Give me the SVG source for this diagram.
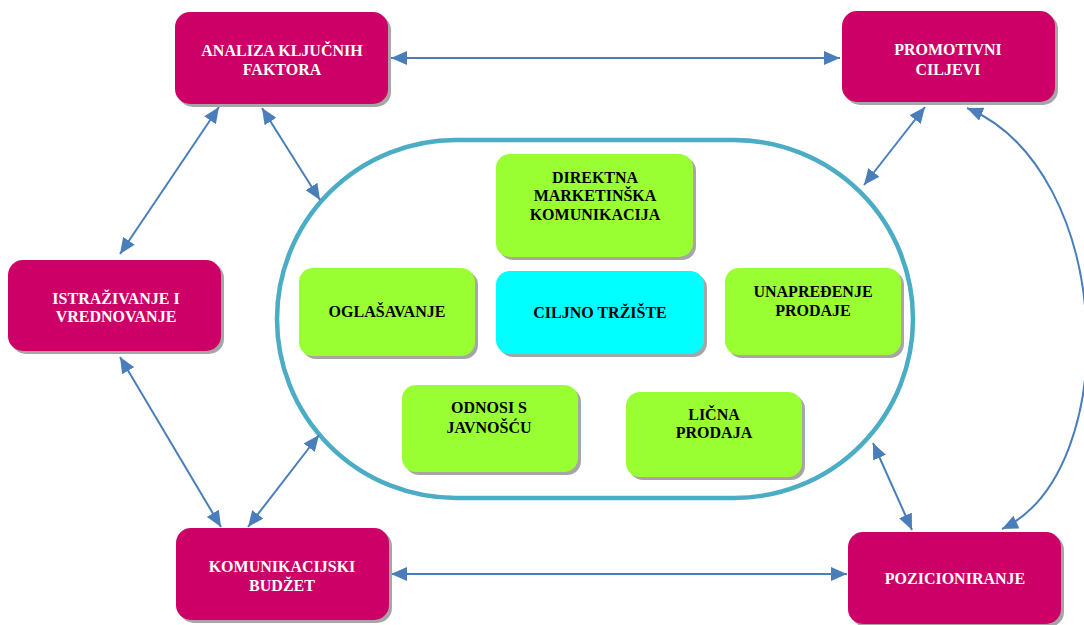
<svg xmlns="http://www.w3.org/2000/svg" width="1084" height="625" viewBox="0 0 1084 625">
<defs>
<style>
.sh{fill:#A6A6A6}
.mg{fill:#CC0066}
.gr{fill:#99FF33}
.cy{fill:#00FFFF}
.tw{font-family:"Liberation Serif","Times New Roman",serif;font-weight:bold;font-size:16px;fill:#FFFFFF;text-anchor:middle}
.tb{font-family:"Liberation Serif","Times New Roman",serif;font-weight:bold;font-size:16px;fill:#000000;text-anchor:middle}
.ar{fill:none;stroke:#4A7EBB;stroke-width:2;marker-start:url(#ah);marker-end:url(#ah)}
</style>
<marker id="ah" markerUnits="userSpaceOnUse" markerWidth="17" markerHeight="14" refX="16" refY="7" orient="auto-start-reverse">
<path d="M0,0 L16,7 L0,14 z" fill="#4A7EBB"/>
</marker>
</defs>
<rect width="1084" height="625" fill="#FFFFFF"/>
<g id="target-ring">
<rect x="277" y="140" width="636" height="358" rx="179" ry="179" fill="none" stroke="#4BACC6" stroke-width="4.5"/>
</g>
<g id="connectors">
<line class="ar" x1="391" y1="58" x2="840" y2="58"/>
<line class="ar" x1="391" y1="574" x2="847" y2="574"/>
<line class="ar" x1="219" y1="107" x2="120" y2="254"/>
<line class="ar" x1="262" y1="108" x2="320" y2="200"/>
<line class="ar" x1="925" y1="107" x2="864" y2="185"/>
<line class="ar" x1="120" y1="357" x2="221" y2="527"/>
<line class="ar" x1="248" y1="527" x2="319" y2="435"/>
<line class="ar" x1="873" y1="443" x2="912" y2="530"/>
<path class="ar" d="M967,108 C1115,170 1125,470 1002,529"/>
</g>
<g id="analiza">
<rect class="sh" x="178" y="15" width="213" height="92" rx="15"/>
<rect class="mg" x="175" y="12" width="213" height="92" rx="15"/>
<text class="tw" x="282" y="56">ANALIZA KLJUČNIH</text>
<text class="tw" x="282" y="75">FAKTORA</text>
</g>
<g id="promotivni">
<rect class="sh" x="845" y="14" width="213" height="91" rx="15"/>
<rect class="mg" x="842" y="11" width="213" height="91" rx="15"/>
<text class="tw" x="948" y="55">PROMOTIVNI</text>
<text class="tw" x="948" y="75">CILJEVI</text>
</g>
<g id="istrazivanje">
<rect class="sh" x="11" y="263" width="213" height="91" rx="15"/>
<rect class="mg" x="8" y="260" width="213" height="91" rx="15"/>
<text class="tw" x="116" y="304">ISTRAŽIVANJE I</text>
<text class="tw" x="116" y="322">VREDNOVANJE</text>
</g>
<g id="budzet">
<rect class="sh" x="179" y="531" width="213" height="92" rx="15"/>
<rect class="mg" x="176" y="528" width="213" height="92" rx="15"/>
<text class="tw" x="282" y="572">KOMUNIKACIJSKI</text>
<text class="tw" x="282" y="591">BUDŽET</text>
</g>
<g id="pozicioniranje">
<rect class="sh" x="851" y="535" width="213" height="92" rx="15"/>
<rect class="mg" x="848" y="532" width="213" height="92" rx="15"/>
<text class="tw" x="955" y="584">POZICIONIRANJE</text>
</g>
<g id="direktna">
<rect class="sh" x="499" y="157" width="197" height="103" rx="14"/>
<rect class="gr" x="496" y="154" width="197" height="103" rx="14"/>
<text class="tb" x="595" y="183">DIREKTNA</text>
<text class="tb" x="595" y="201">MARKETINŠKA</text>
<text class="tb" x="595" y="220">KOMUNIKACIJA</text>
</g>
<g id="oglasavanje">
<rect class="sh" x="302" y="271" width="176" height="88" rx="14"/>
<rect class="gr" x="299" y="268" width="176" height="88" rx="14"/>
<text class="tb" x="387" y="317">OGLAŠAVANJE</text>
</g>
<g id="ciljno">
<rect class="sh" x="499" y="274" width="208" height="83" rx="14"/>
<rect class="cy" x="496" y="271" width="208" height="83" rx="14"/>
<text class="tb" x="600" y="318">CILJNO TRŽIŠTE</text>
</g>
<g id="unapredjenje">
<rect class="sh" x="728" y="271" width="176" height="87" rx="14"/>
<rect class="gr" x="725" y="268" width="176" height="87" rx="14"/>
<text class="tb" x="813" y="297">UNAPREĐENJE</text>
<text class="tb" x="813" y="316">PRODAJE</text>
</g>
<g id="odnosi">
<rect class="sh" x="405" y="388" width="176" height="87" rx="14"/>
<rect class="gr" x="402" y="385" width="176" height="87" rx="14"/>
<text class="tb" x="489" y="413">ODNOSI S</text>
<text class="tb" x="489" y="433">JAVNOŠĆU</text>
</g>
<g id="licna">
<rect class="sh" x="629" y="395" width="176" height="85" rx="14"/>
<rect class="gr" x="626" y="392" width="176" height="85" rx="14"/>
<text class="tb" x="714" y="420">LIČNA</text>
<text class="tb" x="714" y="438">PRODAJA</text>
</g>
</svg>
